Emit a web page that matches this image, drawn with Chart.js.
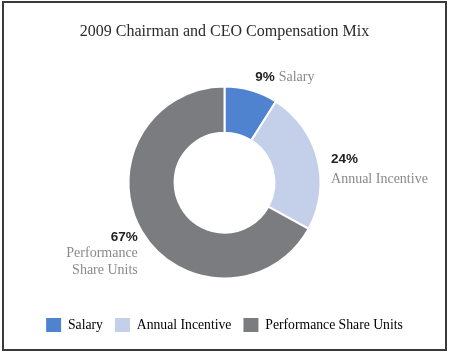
<!DOCTYPE html>
<html><head><meta charset="utf-8">
<script src="https://cdn.jsdelivr.net/npm/chart.js@4.4.0/dist/chart.umd.min.js"></script>
<style>
html,body{margin:0;padding:0;background:#fff;}
#wrap{position:absolute;left:0;top:0;width:449px;height:354px;}
#frame{position:absolute;left:2px;top:1px;width:441px;height:346px;border:2px solid #3a3a3a;pointer-events:none;}
</style></head>
<body>
<div id="wrap"><canvas id="c" width="449" height="354"></canvas><div id="frame"></div></div>
<script>
const title = "2009 Chairman and CEO Compensation Mix";
const categories = ["Salary", "Annual Incentive", "Performance Share Units"];
const values = [9, 24, 67];
const colors = ["#4f82cf", "#c4cfea", "#7b7c80"];
const labelLines = [["Salary"], ["Annual Incentive"], ["Performance", "Share Units"]];

const serif = "'Liberation Serif', 'DejaVu Serif', serif";
const sans = "'Liberation Sans', Arial, sans-serif";

const sliceLabels = {
  id: 'sliceLabels',
  afterDatasetsDraw(chart) {
    const ctx = chart.ctx;
    const meta = chart.getDatasetMeta(0);
    ctx.save();
    ctx.textBaseline = 'alphabetic';
    meta.data.forEach((arc, i) => {
      const mid = (arc.startAngle + arc.endAngle) / 2;
      const r = arc.outerRadius + 14;
      const ax = arc.x + Math.cos(mid) * r;
      const ay = arc.y + Math.sin(mid) * r;
      const pct = values[i] + '%';
      ctx.font = "bold 13.5px " + sans;
      if (i === 0) {
        ctx.textAlign = 'left';
        ctx.fillStyle = '#222';
        ctx.fillText(pct, ax, ay + 4);
        const w = ctx.measureText(pct).width;
        ctx.font = "14px " + serif;
        ctx.fillStyle = '#8a8a8a';
        ctx.fillText(labelLines[i][0], ax + w + 4, ay + 4);
      } else if (i === 1) {
        ctx.textAlign = 'left';
        ctx.fillStyle = '#222';
        ctx.fillText(pct, ax, ay + 8);
        ctx.font = "14px " + serif;
        ctx.fillStyle = '#8a8a8a';
        ctx.fillText(labelLines[i][0], ax, ay + 28);
      } else {
        ctx.textAlign = 'right';
        ctx.fillStyle = '#222';
        ctx.fillText(pct, ax + 8, ay + 2);
        ctx.font = "14px " + serif;
        ctx.fillStyle = '#8a8a8a';
        ctx.fillText(labelLines[i][0], ax + 8, ay + 18);
        ctx.fillText(labelLines[i][1], ax + 8, ay + 35);
      }
    });
    ctx.restore();
  }
};

new Chart(document.getElementById('c'), {
  type: 'doughnut',
  data: {
    labels: categories,
    datasets: [{
      data: values,
      backgroundColor: colors,
      borderColor: '#ffffff',
      borderWidth: 2,
      hoverOffset: 0
    }]
  },
  options: {
    responsive: false,
    animation: false,
    radius: 96,
    cutout: '52%',
    layout: { padding: { top: 0, bottom: 12, left: 0, right: 0 } },
    plugins: {
      title: {
        display: true,
        text: title,
        color: '#2a2a2a',
        font: { family: serif, size: 16, weight: 'normal' },
        padding: { top: 22, bottom: 18 }
      },
      legend: {
        display: true,
        position: 'bottom',
        labels: {
          boxWidth: 15,
          boxHeight: 14,
          padding: 12,
          color: '#3a3a3a',
          font: { family: serif, size: 13.7 },
          generateLabels(chart) {
            return categories.map((c, i) => ({
              text: c, fillStyle: colors[i], strokeStyle: colors[i], lineWidth: 0, index: i, hidden: false
            }));
          }
        }
      },
      tooltip: { enabled: false }
    }
  },
  plugins: [sliceLabels]
});
</script>
</body></html>
